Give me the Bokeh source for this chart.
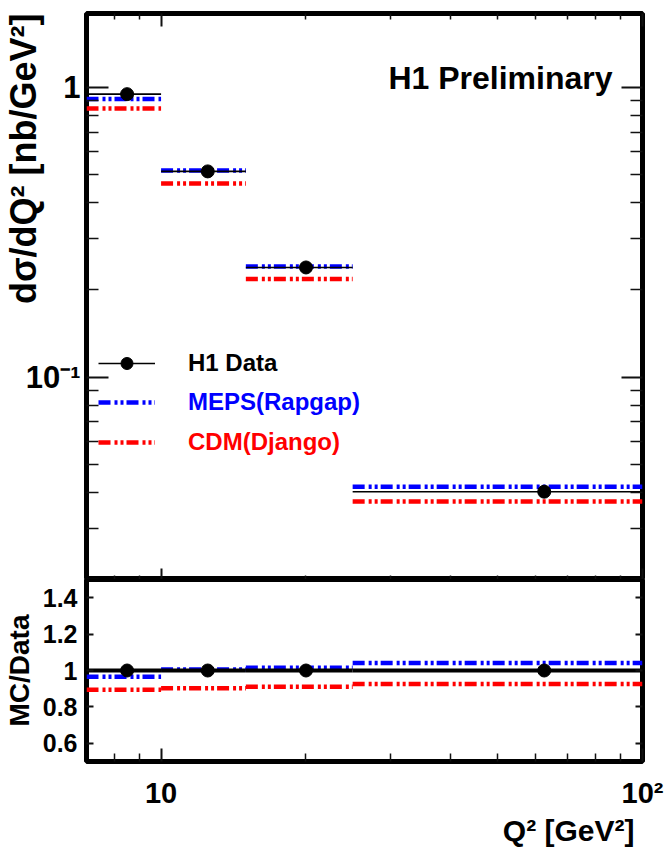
from bokeh.plotting import figure
from bokeh.layouts import column
from bokeh.models import (LogAxis, LinearAxis, FixedTicker, Range1d, Label, Title,
                          Legend, LegendItem, ColumnDataSource)
from bokeh.embed import file_html
from bokeh.resources import INLINE

# ---------------- data ----------------
bin_lo = [7, 10, 15, 25]
bin_hi = [10, 15, 25, 100]
q2_center = [8.5, 12.5, 20.0, 62.5]

data_xs = [0.948, 0.513, 0.239, 0.0402]      # H1 data  dsigma/dQ2 [nb/GeV2]
meps_xs = [0.913, 0.517, 0.241, 0.0418]      # MEPS (Rapgap)
cdm_xs = [0.846, 0.466, 0.218, 0.0372]       # CDM (Django)

data_ratio = [1.0, 1.0, 1.0, 1.0]
meps_ratio = [0.966, 1.005, 1.015, 1.041]
cdm_ratio = [0.894, 0.903, 0.911, 0.926]

x_major = [10, 100]
x_minor = [8, 9, 20, 30, 40, 50, 60, 70, 80, 90]
x_tick_labels = ["10", "10²"]

y_major = [0.1, 1]
y_minor = [0.02, 0.03, 0.04, 0.05, 0.06, 0.07, 0.08, 0.09,
           0.2, 0.3, 0.4, 0.5, 0.6, 0.7, 0.8, 0.9]
y_tick_labels = ["10⁻¹", "1"]

r_ticks = [0.6, 0.8, 1.0, 1.2, 1.4]
r_tick_labels = ["0.6", "0.8", "1", "1.2", "1.4"]

legend_labels = ["H1 Data", "MEPS(Rapgap)", "CDM(Django)"]
y_title = "dσ/dQ² [nb/GeV²]"
r_title = "MC/Data"
x_title = "Q² [GeV²]"

FONT = "Liberation Sans"
DASH = "12 4 3 3 3 3"
TICK_COLOR = "#111111"


def tick_axis(cls, major, minor, maj_in, min_in, labels=None, size="1px", standoff=0):
    ax = cls(ticker=FixedTicker(ticks=major, minor_ticks=minor))
    ax.axis_line_color = None
    ax.major_tick_in = maj_in
    ax.major_tick_out = 0
    ax.minor_tick_in = min_in
    ax.minor_tick_out = 0
    ax.major_tick_line_width = 2
    ax.minor_tick_line_width = 1.5
    ax.major_tick_line_color = TICK_COLOR
    ax.minor_tick_line_color = TICK_COLOR
    ax.major_label_text_font = FONT
    ax.major_label_text_font_style = "bold"
    ax.major_label_text_font_size = size
    ax.major_label_text_color = "black"
    ax.major_label_standoff = standoff
    if labels is None:
        labels = [""] * len(major)
    ax.major_label_overrides = {t: l for t, l in zip(major, labels)}
    ax.axis_label_text_font = FONT
    ax.axis_label_text_font_style = "bold"
    ax.axis_label_text_color = "black"
    return ax


def side_title(text, size, align, offset, standoff):
    return Title(text=text, align=align, offset=offset, standoff=standoff,
                 vertical_align="bottom", text_font=FONT, text_font_style="bold",
                 text_font_size=size, text_color="black")


# ---------------- top panel ----------------
p1 = figure(width=666, height=579, x_axis_type="log", y_axis_type="log",
            x_axis_location=None, y_axis_location=None,
            x_range=Range1d(7, 100), y_range=Range1d(0.02, 1.8),
            output_backend="svg", toolbar_location=None,
            min_border_left=86, min_border_right=24, min_border_top=13, min_border_bottom=0)
p1.outline_line_color = "black"
p1.outline_line_width = 5
p1.background_fill_color = "white"
p1.border_fill_color = "white"
p1.xgrid.visible = False
p1.ygrid.visible = False

p1.add_layout(tick_axis(LogAxis, y_major, y_minor, 22, 12, y_tick_labels, "31px", 6), "left")
p1.add_layout(side_title(y_title, "36px", "right", 0, -42), "left")
p1.add_layout(tick_axis(LogAxis, y_major, y_minor, 21, 12), "right")
p1.add_layout(tick_axis(LogAxis, x_major, x_minor, 13, 6), "above")
p1.add_layout(tick_axis(LogAxis, x_major, x_minor, 11, 4), "below")

src1 = ColumnDataSource(dict(lo=bin_lo, hi=bin_hi, x=q2_center,
                             data=data_xs, meps=meps_xs, cdm=cdm_xs))
r_meps = p1.segment(x0="lo", x1="hi", y0="meps", y1="meps", source=src1,
                    line_color="blue", line_width=4.5, line_dash=DASH)
r_cdm = p1.segment(x0="lo", x1="hi", y0="cdm", y1="cdm", source=src1,
                   line_color="red", line_width=4.5, line_dash=DASH)
r_bar = p1.segment(x0="lo", x1="hi", y0="data", y1="data", source=src1,
                   line_color="black", line_width=1.6)
r_pts = p1.scatter(x="x", y="data", source=src1, size=13, color="black")


def add_legend(p, renderers, label, color, vx, vy):
    leg = Legend(items=[LegendItem(label=label, renderers=renderers)],
                 location=(vx, vy), orientation="vertical",
                 label_text_color=color, label_text_font=FONT,
                 label_text_font_style="bold", label_text_font_size="24px",
                 glyph_width=57, glyph_height=30, label_height=30,
                 label_standoff=33, padding=0, margin=0, spacing=0,
                 border_line_color=None, background_fill_alpha=0)
    p.add_layout(leg)


add_legend(p1, [r_bar, r_pts], legend_labels[0], "black", 12, 201)
add_legend(p1, [r_meps], legend_labels[1], "blue", 12, 162)
add_legend(p1, [r_cdm], legend_labels[2], "red", 12, 122)

p1.add_layout(Label(x=526, y=502, x_units="screen", y_units="screen",
                    text="H1 Preliminary", text_align="right", text_baseline="alphabetic",
                    text_font=FONT, text_font_style="bold", text_font_size="32px",
                    text_color="black"))

# ---------------- ratio panel ----------------
p2 = figure(width=666, height=270, x_axis_type="log",
            x_axis_location=None, y_axis_location=None,
            x_range=p1.x_range, y_range=Range1d(0.5, 1.5),
            output_backend="svg", toolbar_location=None,
            min_border_left=86, min_border_right=24, min_border_top=0, min_border_bottom=88)
p2.outline_line_color = "black"
p2.outline_line_width = 5
p2.background_fill_color = "white"
p2.border_fill_color = "white"
p2.xgrid.visible = False
p2.ygrid.visible = False

ax_left2 = tick_axis(LinearAxis, r_ticks, [], 7, 0, r_tick_labels, "25px", 9)
ax_left2.axis_label = r_title
ax_left2.axis_label_text_font_size = "28px"
ax_left2.axis_label_standoff = 5
p2.add_layout(ax_left2, "left")
p2.add_layout(tick_axis(LinearAxis, r_ticks, [], 7, 0), "right")
p2.add_layout(tick_axis(LogAxis, x_major, x_minor, 13, 8, x_tick_labels, "29px", 15), "below")
p2.add_layout(side_title(x_title, "30px", "right", 8, 0), "below")

src2 = ColumnDataSource(dict(lo=bin_lo, hi=bin_hi, x=q2_center,
                             data=data_ratio, meps=meps_ratio, cdm=cdm_ratio))
p2.segment(x0="lo", x1="hi", y0="meps", y1="meps", source=src2,
           line_color="blue", line_width=4.5, line_dash=DASH)
p2.segment(x0="lo", x1="hi", y0="cdm", y1="cdm", source=src2,
           line_color="red", line_width=4.5, line_dash=DASH)
p2.segment(x0="lo", x1="hi", y0="data", y1="data", source=src2,
           line_color="black", line_width=4)
p2.scatter(x="x", y="data", source=src2, size=13, color="black")

layout = column(p1, p2, spacing=0)
open("out.html", "w").write(file_html(layout, INLINE))
